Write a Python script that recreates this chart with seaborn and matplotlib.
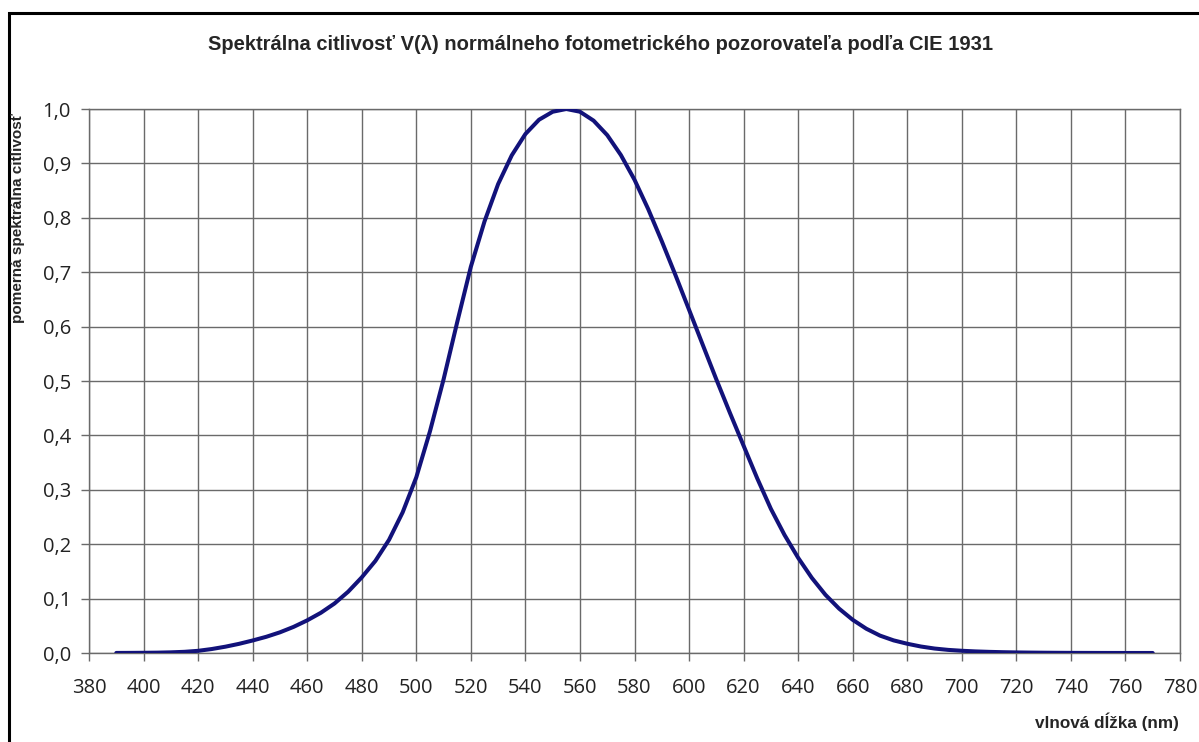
import numpy as np
import pandas as pd
import matplotlib
matplotlib.use("Agg")
import matplotlib.pyplot as plt
from matplotlib.patches import Rectangle
import seaborn as sns

wavelength = [390, 395, 400, 405, 410, 415, 420, 425, 430, 435, 440, 445, 450, 455,
              460, 465, 470, 475, 480, 485, 490, 495, 500, 505, 510, 515, 520, 525,
              530, 535, 540, 545, 550, 555, 560, 565, 570, 575, 580, 585, 590, 595,
              600, 605, 610, 615, 620, 625, 630, 635, 640, 645, 650, 655, 660, 665,
              670, 675, 680, 685, 690, 695, 700, 705, 710, 715, 720, 725, 730, 735,
              740, 745, 750, 755, 760, 765, 770]
sensitivity = [0.00012, 0.000217, 0.000396, 0.00064, 0.00121, 0.00218, 0.004, 0.0073,
               0.0116, 0.01684, 0.023, 0.0298, 0.038, 0.048, 0.06, 0.0739, 0.09098,
               0.1126, 0.13902, 0.1693, 0.20802, 0.2586, 0.323, 0.4073, 0.503, 0.6082,
               0.71, 0.7932, 0.862, 0.91485, 0.954, 0.9803, 0.99495, 1.0, 0.995, 0.9786,
               0.952, 0.9154, 0.87, 0.8163, 0.757, 0.6949, 0.631, 0.5668, 0.503, 0.4412,
               0.381, 0.321, 0.265, 0.217, 0.175, 0.1382, 0.107, 0.0816, 0.061, 0.04458,
               0.032, 0.0232, 0.017, 0.01192, 0.00821, 0.005723, 0.004102, 0.002929,
               0.002091, 0.001484, 0.001047, 0.00074, 0.00052, 0.000361, 0.000249,
               0.000172, 0.00012, 0.000085, 0.00006, 0.000042, 0.00003]
x_ticks = list(range(380, 781, 20))
y_ticks = [round(0.1 * i, 1) for i in range(11)]
y_tick_labels = [f"{v:.1f}".replace(".", ",") for v in y_ticks]

title = "Spektrálna citlivosť V(λ) normálneho fotometrického pozorovateľa podľa CIE 1931"
ylabel = "pomerná spektrálna citlivosť"
xlabel = "vlnová dĺžka (nm)"

sns.set_style("white")
plt.rcParams['font.family'] = ['Open Sans', 'DejaVu Sans']

df = pd.DataFrame({"wl": wavelength, "v": sensitivity})

fig = plt.figure(figsize=(11.99, 7.42), dpi=100)
ax = fig.add_axes([89/1199, 1 - 653/742, (1180 - 89)/1199, (653 - 109)/742])

sns.lineplot(data=df, x="wl", y="v", ax=ax, color="#12127a", linewidth=2.9, zorder=3)

ax.set_xlim(380, 780)
ax.set_ylim(0, 1.0)
ax.set_xticks(x_ticks)
ax.set_xticklabels([str(t) for t in x_ticks])
ax.set_yticks(y_ticks)
ax.set_yticklabels(y_tick_labels)
ax.grid(True, color="#6a6a6a", linewidth=1.0)
for s in ax.spines.values():
    s.set_color("#6a6a6a")
    s.set_linewidth(1.0)
ax.tick_params(axis="both", which="both", length=6, width=1.0, color="#6a6a6a",
               labelsize=14.5, labelcolor="#222222")
ax.tick_params(axis="x", pad=12, bottom=True)
ax.tick_params(axis="y", pad=7, left=True)
ax.set_xlabel("")
ax.set_ylabel("")

fig.text(600/1199, 1 - 45/742, title, ha="center", va="center",
         fontsize=14.5, fontweight="bold", family=["Liberation Sans", "DejaVu Sans"])
fig.text(18/1199, 1 - 218/742, ylabel, rotation=90, ha="center", va="center",
         fontsize=11, fontweight="bold", family=["Liberation Sans", "DejaVu Sans"])
fig.text(1179/1199, 1 - 722/742, xlabel, ha="right", va="center",
         fontsize=12.3, fontweight="bold", family=["Liberation Sans", "DejaVu Sans"])

fig.patches.append(Rectangle((9/1199, -0.05), 1.2, 1 - 13/742 + 0.05,
                             transform=fig.transFigure, fill=False,
                             edgecolor="black", linewidth=2.2))

fig.savefig("out.png", dpi=100)
